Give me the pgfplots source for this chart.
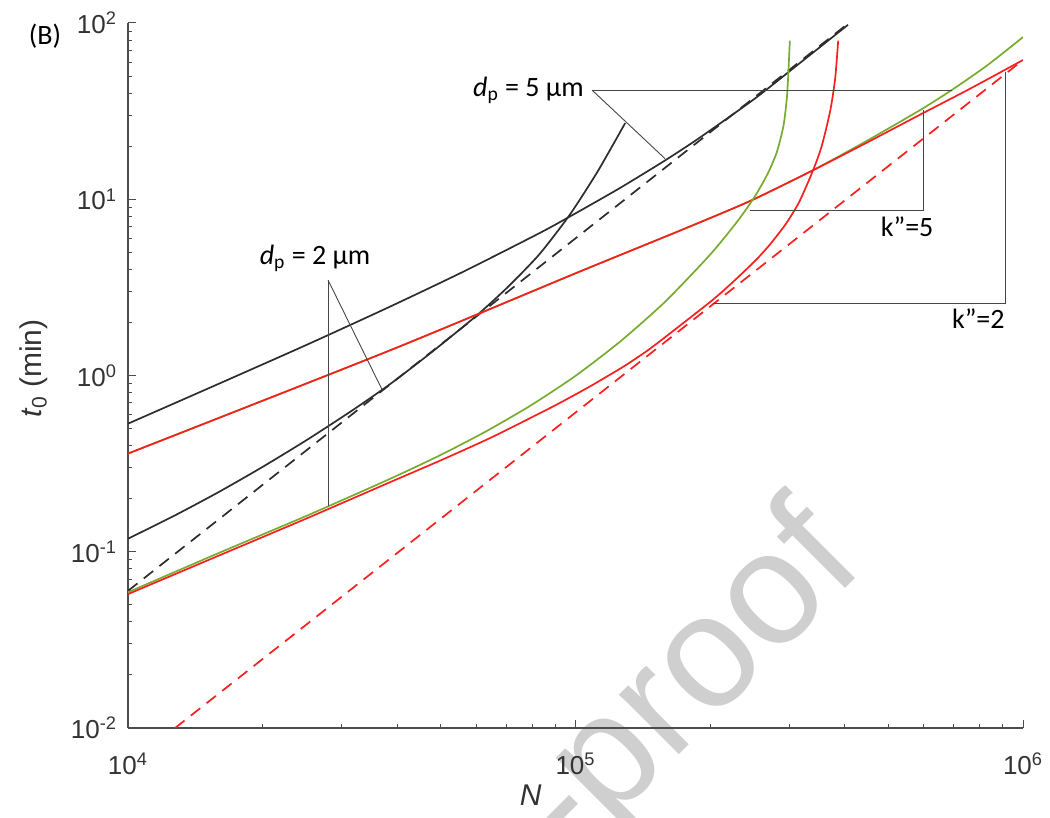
\documentclass[border=0pt]{standalone}
\usepackage{fontspec}
\setmainfont{Liberation Sans}
\newfontfamily\calib{Carlito}
\usepackage{pgfplots}
\pgfplotsset{compat=1.18}

\definecolor{mgreen}{RGB}{119,172,48}
\definecolor{mred}{RGB}{250,30,30}
\definecolor{mblack}{RGB}{45,45,45}
\definecolor{pointer}{RGB}{70,70,70}

\begin{document}
\begin{tikzpicture}
% watermark of the pre-proof
\node[rotate=45, anchor=base east, text=black!19,
      font=\fontsize{80}{84}\selectfont] at (372pt,83pt) {Journal Pre-proof};

\begin{axis}[
    scale only axis,
    width=447.5pt, height=352.5pt,
    xmode=log, ymode=log,
    xmin=1e4, xmax=1e6, ymin=1e-2, ymax=1e2,
    axis x line*=bottom, axis y line*=left,
    axis line style={black!70, line width=0.6pt},
    tick align=inside,
    major tick length=4pt, minor tick length=2pt,
    tick style={black!70, line width=0.5pt},
    xtick={1e4,1e5,1e6},
    xticklabels={10\textsuperscript{4},10\textsuperscript{5},10\textsuperscript{6}},
    ytick={1e-2,1e-1,1,1e1,1e2},
    yticklabels={10\textsuperscript{-2},10\textsuperscript{-1},10\textsuperscript{0},10\textsuperscript{1},10\textsuperscript{2}},
    ticklabel style={font=\fontsize{13}{15}\selectfont, text=black!80},
    xticklabel style={yshift=-9pt},
    yticklabel style={xshift=-2pt},
    xlabel={\itshape N},
    ylabel={{\itshape t}\textsubscript{0} (min)},
    label style={font=\fontsize{15}{17}\selectfont, text=black!80},
    xlabel style={at={(axis description cs:0.45,-0.095)}, anchor=center},
    ylabel style={at={(axis description cs:-0.105,0.51)}, anchor=center},
    clip mode=individual,
    every axis plot/.append style={line width=0.85pt},
]

% dashed limits
\addplot[mblack, dash pattern=on 6pt off 4pt] coordinates {
    (1e4,0.06) (1e5,6.0) (4.06e5,99)
};
\addplot[mred, dash pattern=on 6pt off 4pt] coordinates {
    (1.274e4,0.01) (1e5,0.6166) (1e6,61.66)
};

% dp = 5 um, black
\addplot[mblack, smooth, tension=0.4] coordinates {
    (1e4,0.533) (1.585e4,0.891) (2.512e4,1.496) (3.846e4,2.455)
    (5.623e4,3.89) (8.34e4,6.457) (1e5,8.318) (1.259e5,11.61)
    (1.585e5,16.6) (1.897e5,22.39) (2.512e5,37.15) (3.162e5,58.88) (4.064e5,97.7)
};
% dp = 2 um, black
\addplot[mblack, smooth, tension=0.4] coordinates {
    (1e4,0.1186) (1.259e4,0.1585) (1.585e4,0.2163) (1.995e4,0.302)
    (2.512e4,0.4315) (3.162e4,0.631) (3.846e4,0.891) (4.786e4,1.365)
    (6.012e4,2.188) (7.079e4,3.199) (8.318e4,4.898) (9.727e4,8.222)
    (1.122e5,14.45) (1.291e5,27.04)
};

% upper pair (green under red)
\addplot[mgreen, smooth, tension=0.4] coordinates {
    (1e4,0.3606) (3.846e4,1.387) (1e5,3.80) (1.742e5,6.761) (2.455e5,9.772)
    (3.396e5,14.62) (4.467e5,21.38) (5.888e5,32.06) (6.934e5,41.69)
    (8.318e5,57.5) (1e6,83.2)
};
\addplot[mred, smooth, tension=0.4] coordinates {
    (1e4,0.3606) (3.846e4,1.387) (1e5,3.80) (1.742e5,6.761) (2.455e5,9.772)
    (3.396e5,14.62) (4.467e5,20.89) (5.888e5,30.2) (7.586e5,42.17) (1e6,61.66)
};

% lower pair
\addplot[mgreen, smooth, tension=0.4] coordinates {
    (1e4,0.0589) (1.585e4,0.0977) (2.512e4,0.1603) (3.846e4,0.2588)
    (5.012e4,0.3556) (6.310e4,0.4819) (7.943e4,0.6761) (1e5,0.9954)
    (1.259e5,1.560) (1.585e5,2.618) (1.995e5,4.819) (2.291e5,7.396)
    (2.512e5,10.30) (2.692e5,14.06) (2.818e5,18.54) (2.917e5,26.30)
    (2.972e5,39.81) (3.013e5,79.43)
};
\addplot[mred, smooth, tension=0.4] coordinates {
    (1e4,0.0575) (1.585e4,0.0944) (2.512e4,0.1549) (3.846e4,0.2477)
    (5.012e4,0.3311) (6.442e4,0.4416) (7.943e4,0.5754) (9.078e4,0.6839)
    (1.072e5,0.8610) (1.279e5,1.122) (1.445e5,1.380) (1.600e5,1.679)
    (2.028e5,2.692) (2.291e5,3.548) (2.541e5,4.571) (2.723e5,5.559)
    (2.951e5,7.244) (3.162e5,9.661) (3.396e5,14.62) (3.548e5,19.95)
    (3.707e5,31.62) (3.802e5,47.86) (3.864e5,79.43)
};

% pointers and labels
\begin{scope}[pointer, line width=0.45pt]
\draw (1.089e5,41.6) -- (6.94e5,41.6);
\draw (1.089e5,41.6) -- (1.585e5,17.0);
\draw (2.8e4,3.47) -- (2.8e4,0.1824);
\draw (2.8e4,3.47) -- (3.695e4,0.8326);
\draw (2.455e5,8.66) -- (5.976e5,8.66) -- (5.976e5,32.1);
\draw (2.028e5,2.566) -- (9.12e5,2.566) -- (9.12e5,52.7);
\end{scope}
\node[anchor=east, inner sep=0pt, xshift=-4pt, font=\calib\fontsize{14}{16}\selectfont]
    at (1.089e5,41.6) {\textit{d}\textsubscript{p} = 5 µm};
\node[anchor=south, inner sep=1pt, yshift=3pt, font=\calib\fontsize{14}{16}\selectfont]
    at (2.618e4,3.47) {\textit{d}\textsubscript{p} = 2 µm};
\node[anchor=north, inner sep=1pt, font=\calib\fontsize{14}{16}\selectfont]
    at (5.508e5,8.22) {k”=5};
\node[anchor=north east, inner sep=1pt, font=\calib\fontsize{14}{16}\selectfont]
    at (9.21e5,2.466) {k”=2};
\end{axis}

\node[font=\calib\fontsize{14}{16}\selectfont] at (-41.5pt,346pt) {(B)};

\pgfresetboundingbox
\path[use as bounding box] (-64pt,-45pt) rectangle (461pt,364pt);
\end{tikzpicture}
\end{document}
